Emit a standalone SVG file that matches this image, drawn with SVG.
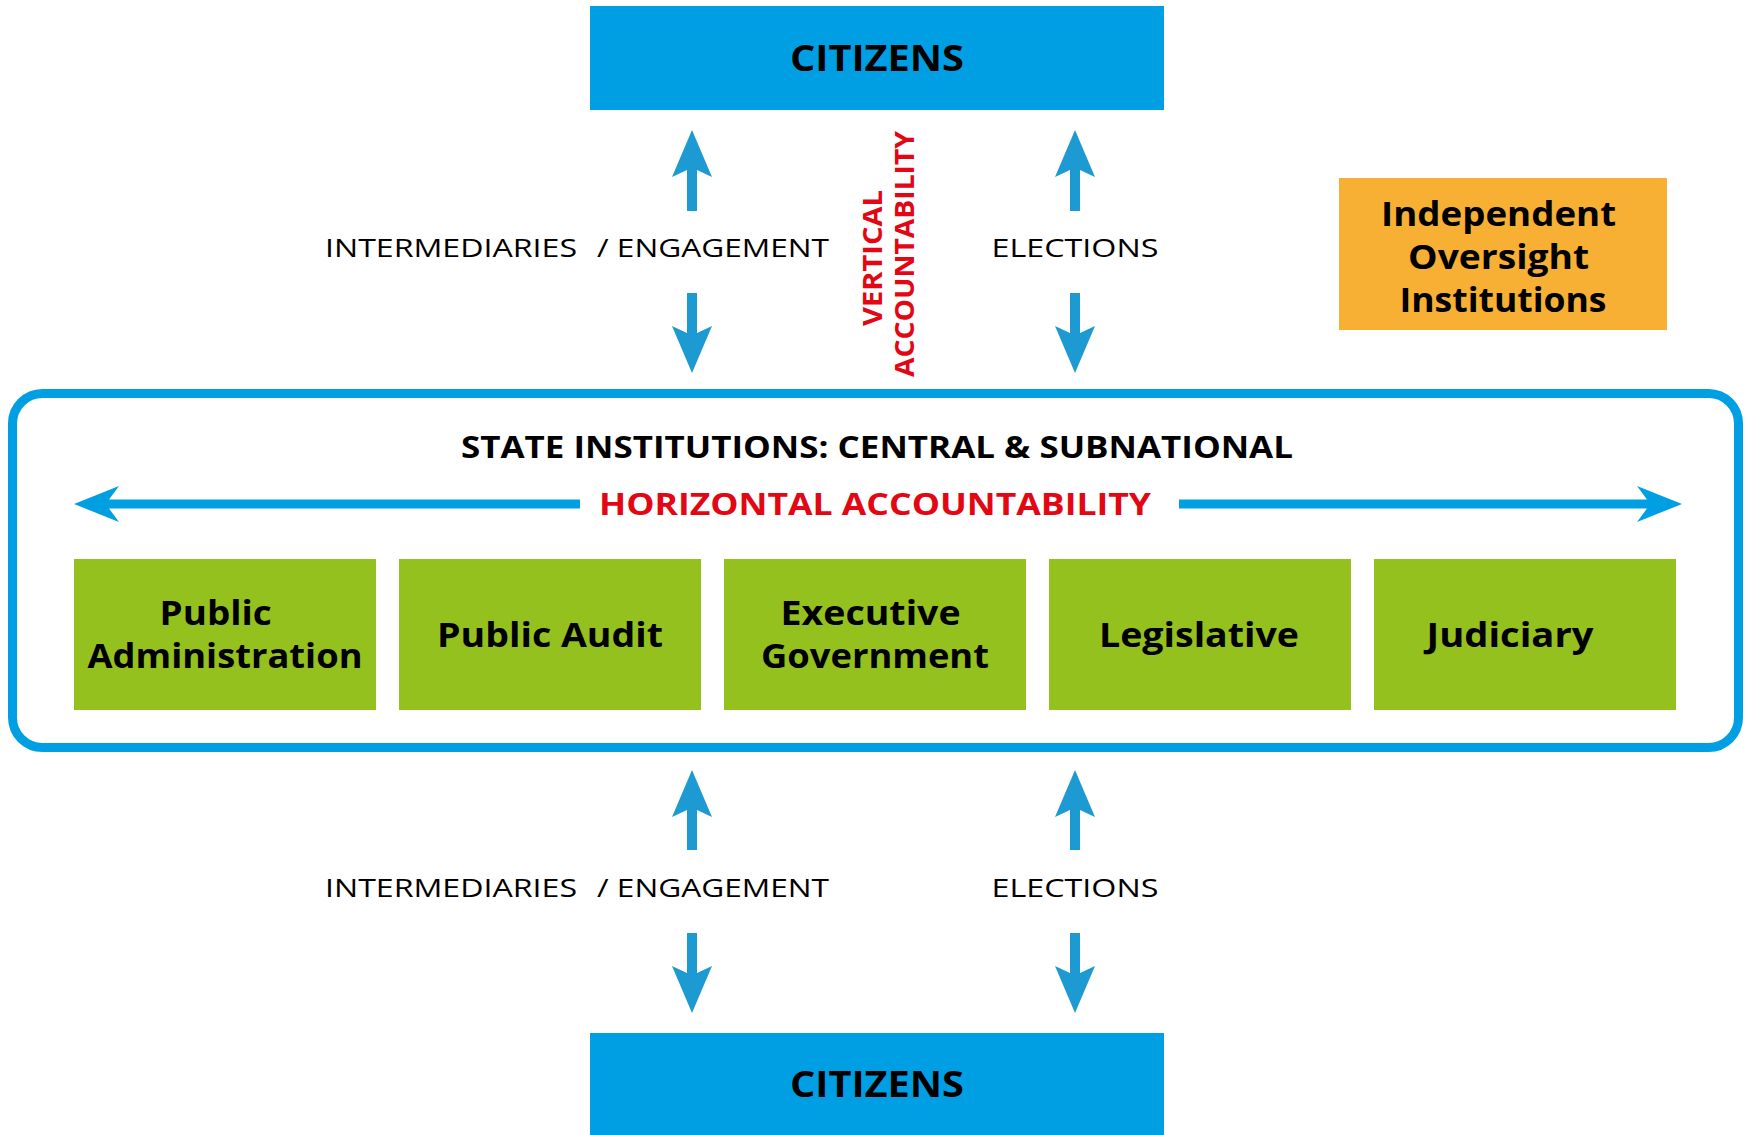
<svg xmlns="http://www.w3.org/2000/svg" width="1752" height="1135" viewBox="0 0 1752 1135">
<style>
.bold{font-family:"Open Sans","Liberation Sans",sans-serif;font-weight:700;fill:#000;}
.lbl{font-family:"Open Sans","Liberation Sans",sans-serif;font-weight:400;fill:#000;font-size:25px;}
.red{fill:#e30613;}
.cit{fill:#009fe3;}
.grn{fill:#95c11f;}
.org{fill:#f7b033;}
.varr{fill:#1e9ad3;}
.harr{fill:#009fe3;}
</style>
<rect width="1752" height="1135" fill="#fff"/>
<g id="citizens-top">
<rect class="cit" x="590" y="6" width="574" height="104"/>
<text class="bold" x="877" y="71" font-size="35" text-anchor="middle" textLength="174" lengthAdjust="spacingAndGlyphs">CITIZENS</text>
</g>
<g id="citizens-bottom">
<rect class="cit" x="590" y="1033" width="574" height="102"/>
<text class="bold" x="877" y="1097" font-size="35" text-anchor="middle" textLength="174" lengthAdjust="spacingAndGlyphs">CITIZENS</text>
</g>
<g id="oversight">
<rect class="org" x="1339" y="178" width="328" height="152"/>
<text class="bold" font-size="34" text-anchor="middle">
<tspan x="1503" y="226" textLength="235" lengthAdjust="spacingAndGlyphs">Independent</tspan>
<tspan x="1503" y="269" textLength="181" lengthAdjust="spacingAndGlyphs">Oversight</tspan>
<tspan x="1503" y="312" textLength="207" lengthAdjust="spacingAndGlyphs">Institutions</tspan>
</text>
</g>
<g id="state">
<rect x="12.5" y="393.5" width="1726" height="354" rx="30" fill="none" stroke="#009fe3" stroke-width="9"/>
<text class="bold" x="877" y="458" font-size="30" text-anchor="middle" textLength="832" lengthAdjust="spacingAndGlyphs">STATE INSTITUTIONS: CENTRAL &amp; SUBNATIONAL</text>
<text class="bold red" x="875" y="515" font-size="30" text-anchor="middle" textLength="552" lengthAdjust="spacingAndGlyphs">HORIZONTAL ACCOUNTABILITY</text>
</g>
<g id="public-administration">
<rect class="grn" x="74" y="559" width="302" height="151"/>
<text class="bold" font-size="34" text-anchor="middle">
<tspan x="220" y="625" textLength="112" lengthAdjust="spacingAndGlyphs">Public</tspan>
<tspan x="225" y="668" textLength="275" lengthAdjust="spacingAndGlyphs">Administration</tspan>
</text>
</g>
<g id="public-audit">
<rect class="grn" x="399" y="559" width="302" height="151"/>
<text class="bold" x="550" y="647" font-size="34" text-anchor="middle" textLength="226" lengthAdjust="spacingAndGlyphs">Public Audit</text>
</g>
<g id="executive-government">
<rect class="grn" x="724" y="559" width="302" height="151"/>
<text class="bold" font-size="34" text-anchor="middle">
<tspan x="875" y="625" textLength="180" lengthAdjust="spacingAndGlyphs">Executive</tspan>
<tspan x="875" y="668" textLength="228" lengthAdjust="spacingAndGlyphs">Government</tspan>
</text>
</g>
<g id="legislative">
<rect class="grn" x="1049" y="559" width="302" height="151"/>
<text class="bold" x="1199" y="647" font-size="34" text-anchor="middle" textLength="200" lengthAdjust="spacingAndGlyphs">Legislative</text>
</g>
<g id="judiciary">
<rect class="grn" x="1374" y="559" width="302" height="151"/>
<text class="bold" x="1510" y="647" font-size="34" text-anchor="middle" textLength="167" lengthAdjust="spacingAndGlyphs">Judiciary</text>
</g>
<g id="vertical-label">
<text class="bold red" font-size="26" text-anchor="middle" transform="translate(882,258) rotate(-90)" textLength="136" lengthAdjust="spacingAndGlyphs">VERTICAL</text>
<text class="bold red" font-size="26" text-anchor="middle" transform="translate(914,254) rotate(-90)" textLength="246" lengthAdjust="spacingAndGlyphs">ACCOUNTABILITY</text>
</g>
<g id="labels">
<text class="lbl" y="257"><tspan x="325" textLength="252" lengthAdjust="spacingAndGlyphs">INTERMEDIARIES</tspan><tspan x="597" textLength="232" lengthAdjust="spacingAndGlyphs">/ ENGAGEMENT</tspan></text>
<text class="lbl" x="1075" y="257" text-anchor="middle" textLength="167" lengthAdjust="spacingAndGlyphs">ELECTIONS</text>
<text class="lbl" y="897"><tspan x="325" textLength="252" lengthAdjust="spacingAndGlyphs">INTERMEDIARIES</tspan><tspan x="597" textLength="232" lengthAdjust="spacingAndGlyphs">/ ENGAGEMENT</tspan></text>
<text class="lbl" x="1075" y="897" text-anchor="middle" textLength="167" lengthAdjust="spacingAndGlyphs">ELECTIONS</text>
</g>
<g id="connectors">
<path class="varr" d="M692,130 L712,177 L697,170 L697,211 L687,211 L687,170 L672,177 Z"/>
<path class="varr" d="M1075,130 L1095,177 L1080,170 L1080,211 L1070,211 L1070,170 L1055,177 Z"/>
<path class="varr" d="M692,373 L712,326 L697,333 L697,293 L687,293 L687,333 L672,326 Z"/>
<path class="varr" d="M1075,373 L1095,326 L1080,333 L1080,293 L1070,293 L1070,333 L1055,326 Z"/>
<path class="varr" d="M692,770 L712,817 L697,810 L697,850 L687,850 L687,810 L672,817 Z"/>
<path class="varr" d="M1075,770 L1095,817 L1080,810 L1080,850 L1070,850 L1070,810 L1055,817 Z"/>
<path class="varr" d="M692,1013 L712,966 L697,973 L697,933 L687,933 L687,973 L672,966 Z"/>
<path class="varr" d="M1075,1013 L1095,966 L1080,973 L1080,933 L1070,933 L1070,973 L1055,966 Z"/>
<path class="harr" d="M74,504 L119,486 L109,499.5 L580,499.5 L580,508.5 L109,508.5 L119,522 Z"/>
<path class="harr" d="M1682,504 L1637,486 L1647,499.5 L1179,499.5 L1179,508.5 L1647,508.5 L1637,522 Z"/>
</g>
</svg>
